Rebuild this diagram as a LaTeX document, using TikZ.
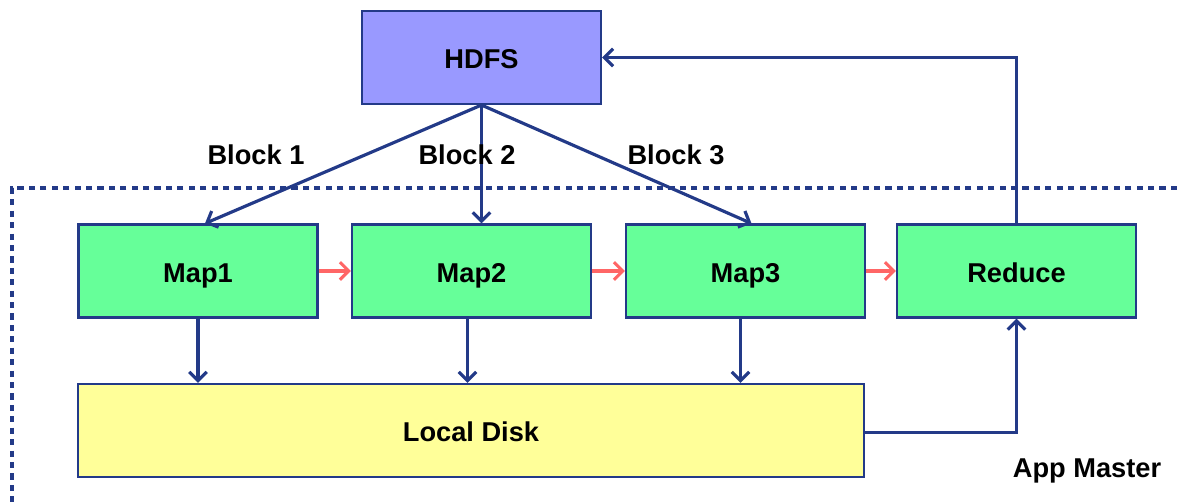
\documentclass[tikz,border=0pt]{standalone}
\usepackage{fontspec}
\setmainfont{Liberation Sans}
\usepackage{tikz}
\usetikzlibrary{calc}
\usetikzlibrary{arrows.meta}

\definecolor{navy}{HTML}{233A88}
\definecolor{hdfsblue}{HTML}{9999FF}
\definecolor{mapgreen}{HTML}{66FF99}
\definecolor{diskyellow}{HTML}{FFFF99}
\definecolor{pinkred}{HTML}{FF6666}

\tikzset{
    box/.style={draw=navy, line width=1.2pt, minimum width=4.78cm, minimum height=1.86cm, text height=14pt, text depth=1pt, font=\bfseries\fontsize{15.5}{18}\selectfont},
    flow/.style={navy, line width=1.8pt, -{Straight Barb[length=5pt,width=10pt,line width=1.8pt]}},
    pass/.style={pinkred, line width=1.8pt, -{Straight Barb[length=5pt,width=10pt,line width=1.8pt]}},
    lbl/.style={font=\bfseries\fontsize{15.5}{18}\selectfont}
}

\begin{document}
\begin{tikzpicture}[x=0.02cm,y=-0.02cm]
        \useasboundingbox (0,0) rectangle (1177,503);

        % app master region
        \draw[navy, line width=2.2pt, dash pattern=on 3.5pt off 3pt] (1177,188) -- (12,188) -- (12,503);
        \node[lbl] (master) at (1087,471) {App Master};

        \node[box, fill=hdfsblue] (hdfs) at (481.5,57.5) {HDFS};
        % map line
        \node[box, fill=mapgreen] (map1) at (198,271) {Map1};
        \node[box, fill=mapgreen] (map2) at (471.5,271) {Map2};
        \node[box, fill=mapgreen] (map3) at (745.5,271) {Map3};
        \node[box, fill=mapgreen] (reduce) at (1016.5,271) {Reduce};
        % disk
        \node[box, fill=diskyellow, minimum width=15.72cm] (disk) at (471,430.5) {Local Disk};

        % blocks
        \draw[flow] (hdfs.south) -- ($(map1.north)+(7,0)$);
        \draw[flow] (hdfs.south) -- (hdfs.south |- map2.north);
        \draw[flow] (hdfs.south) -- ($(map3.north)+(6,0)$);
        \node[lbl] (b1) at (256,155) {Block 1};
        \node[lbl] (b2) at (467,155) {Block 2};
        \node[lbl] (b3) at (676,155) {Block 3};

        \draw[pass] (map1) -- (map2);
        \draw[pass] (map2) -- (map3);
        \draw[pass] (map3) -- (reduce);

        \draw[flow] (map1.south) -- (map1.south |- disk.north);
        \draw[flow] ($(map2.south)+(-4,0)$) -- ($(map2.south |- disk.north)+(-4,0)$);
        \draw[flow] ($(map3.south)+(-5,0)$) -- ($(map3.south |- disk.north)+(-5,0)$);

        \draw[flow] ($(disk.east)+(0,2)$) -| (reduce.south);
        \draw[flow] (reduce.north) |- (hdfs.east);
    \end{tikzpicture}
\end{document}
